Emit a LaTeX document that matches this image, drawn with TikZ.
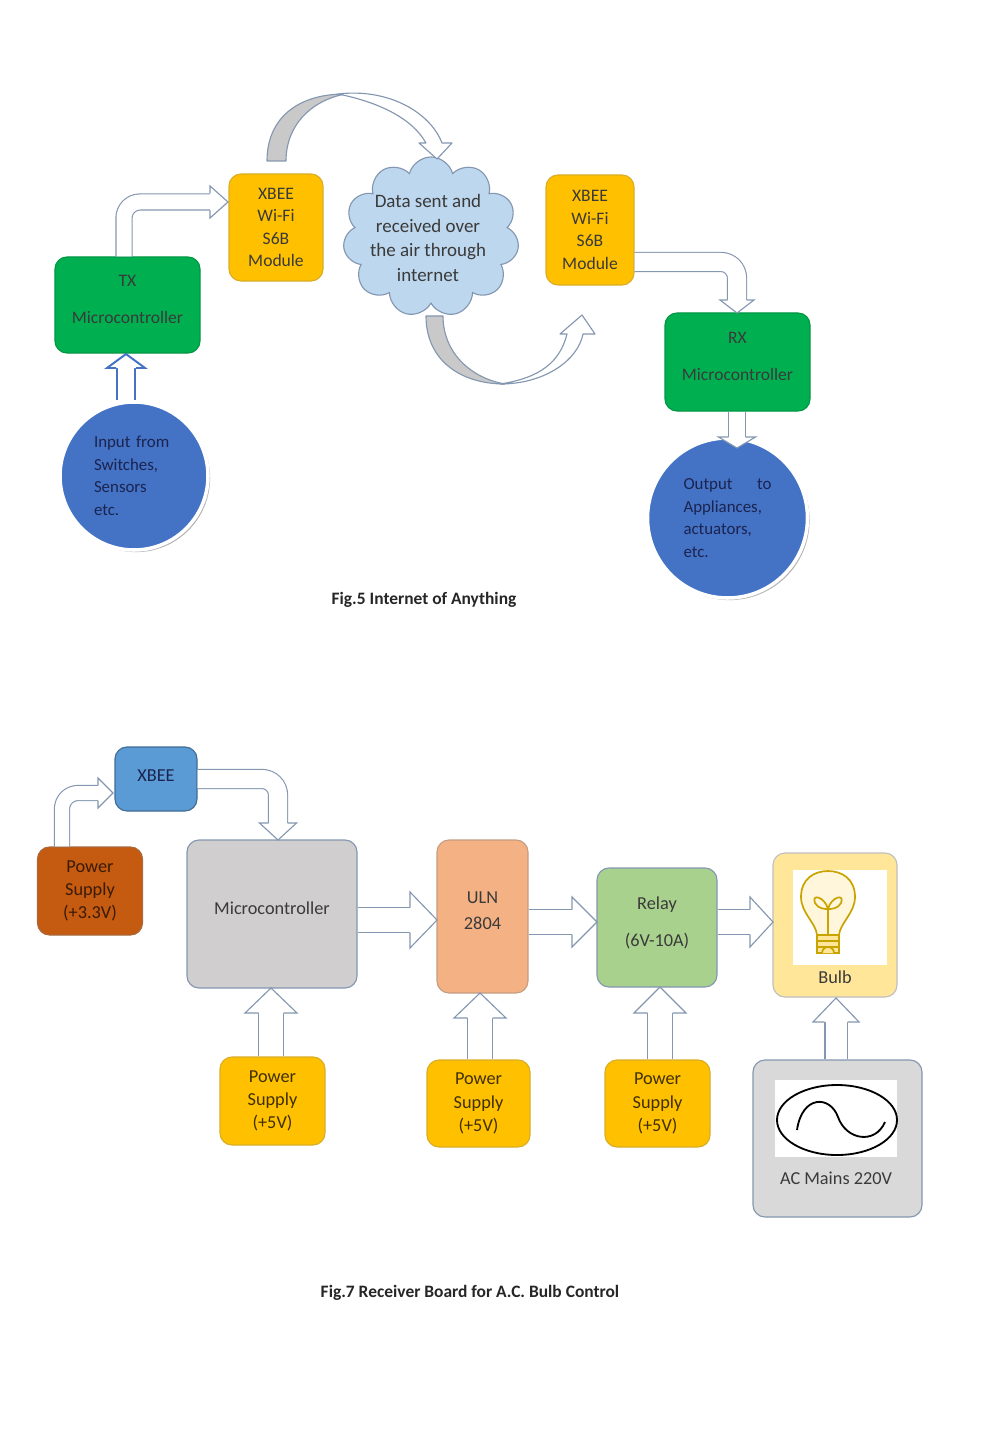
\documentclass[tikz,border=0pt]{standalone}
\usepackage{fontspec}
\setmainfont{Carlito}
\usetikzlibrary{calc,shapes.symbols,shadows}

\definecolor{txgreen}{HTML}{00B050}
\definecolor{xbyellow}{HTML}{FFC000}
\definecolor{cloudblue}{HTML}{BDD7EE}
\definecolor{circblue}{HTML}{4472C4}
\definecolor{arrline}{HTML}{8497B0}
\definecolor{curvgray}{HTML}{C9C9C9}
\definecolor{xbblue}{HTML}{5B9BD5}
\definecolor{psbrown}{HTML}{C55A11}
\definecolor{mcugray}{HTML}{D0CECE}
\definecolor{ulnpink}{HTML}{F4B183}
\definecolor{relaygreen}{HTML}{A9D18E}
\definecolor{bulbyellow}{HTML}{FFE699}
\definecolor{acgray}{HTML}{D9D9D9}
\definecolor{bulbline}{HTML}{C9A400}
\definecolor{boxtext}{HTML}{3A3A3A}
\definecolor{navytext}{HTML}{1B2450}

% head of a block arrow: [style] tip, angle, half width, length, half shaft
\newcommand\bhead[6][]{%
  \begin{scope}[shift={#2}, rotate=#3]
    \filldraw[headst, #1] (-#5,#6) -- (-#5,#4) -- (0,0) -- (-#5,-#4) -- (-#5,-#6);
  \end{scope}}

\begin{document}
\begin{tikzpicture}[x=0.25mm, y=-0.25mm,
    box/.style={draw, rounded corners=3mm, line width=0.8pt, align=center, text=boxtext,
      font=\fontsize{12.5}{16}\selectfont},
    bbox/.style={box, font=\fontsize{13}{16.5}\selectfont},
    ball/.style={circle, fill=circblue, draw=white, line width=2.5pt, text=navytext, align=left,
      font=\fontsize{12}{16}\selectfont,
      drop shadow={shadow xshift=1.5pt, shadow yshift=-1.5pt, opacity=.3, fill=black}},
    barrow/.style={draw=arrline, line width=0.8pt, double=white, rounded corners=4mm},
    headst/.style={fill=white, draw=arrline, line width=0.8pt, line join=miter},
    curv/.style={draw=arrline, line width=0.8pt, line join=round},
    caption/.style={font=\bfseries\fontsize{12.4}{14}\selectfont, text=black!85}]

  \fill[white] (0,0) rectangle (1000,1430);
  \useasboundingbox (0,0) rectangle (1000,1430);

  % Fig.5
  \node[box, fill=txgreen, draw=txgreen!85!black, minimum width=36.25mm, minimum height=24mm]
    (tx) at (127.5,305) {TX\\[10pt]Microcontroller\\[-8pt]};
  \node[box, fill=xbyellow, draw=xbyellow!70!gray, minimum width=23.5mm, minimum height=26.75mm]
    (xbl) at (276,227.5) {XBEE\\Wi-Fi\\S6B\\Module};
  \node[cloud, cloud puffs=11, aspect=1.1, fill=cloudblue, draw=arrline, line width=0.8pt,
    minimum width=44mm, minimum height=40mm] (cloud) at (431,237) {};
  \node[align=center, text=boxtext, font=\fontsize{13.5}{17.5}\selectfont]
    (cloudtxt) at (428,238) {Data sent and\\received over\\the air through\\internet};
  \node[box, fill=xbyellow, draw=xbyellow!70!gray, minimum width=22mm, minimum height=27.5mm]
    (xbr) at (590,230) {XBEE\\Wi-Fi\\S6B\\Module};
  \node[box, fill=txgreen, draw=txgreen!85!black, minimum width=36.25mm, minimum height=24.5mm]
    (rx) at (737.5,362) {RX\\[10pt]Microcontroller\\[-8pt]};
  \node[ball, minimum size=37mm, text width=20mm] (incircle) at (134,476)
    {Input from\\Switches,\\Sensors\\etc.};
  \node[ball, minimum size=40mm, text width=22mm] (outcircle) at (727.5,518)
    {Output\hfill to\\Appliances,\\actuators,\\etc.};

  % block arrows of Fig.5
  \coordinate (t1) at (228,202);
  \draw[barrow, double distance=3.75mm] ($(tx.north)+(-3.5,0)$) |- ($(t1)+(-18,0)$);
  \bhead{(t1)}{0}{16}{18}{8.5}

  \coordinate (t2) at (126,354);
  \draw[barrow, draw=circblue, line width=1.4pt, double distance=4mm] (incircle.north -| t2) -- ($(t2)+(0,14)$);
  \bhead[draw=circblue, line width=1.4pt]{(t2)}{90}{19}{14}{10}

  \coordinate (t3) at (737,313);
  \draw[barrow, double distance=4.5mm] ($(xbr.east)+(0,32)$) -| ($(t3)+(0,-13)$);
  \bhead{(t3)}{-90}{17}{13}{9.5}

  \coordinate (t4) at (737,448);
  \draw[barrow, double distance=4mm] (rx.south -| t4) -- ($(t4)+(0,-11)$);
  \bhead{(t4)}{-90}{18.5}{11}{8.5}

  % curved arrows over and under the cloud
  \filldraw[curv, fill=curvgray] (267,161) .. controls (267,118) and (298,94) .. (345,94)
    .. controls (310,101) and (286,126) .. (286,161) -- cycle;
  \filldraw[curv, fill=white] (338,94) .. controls (388,88) and (430,112) .. (442,143)
    -- (452,143) -- (437,159) -- (419,143) -- (426,143)
    .. controls (412,118) and (378,102) .. (338,94) -- cycle;
  \filldraw[curv, fill=curvgray] (426,316) .. controls (426,360) and (460,384) .. (505,384)
    .. controls (470,378) and (443,352) .. (443,316) -- cycle;
  \filldraw[curv, fill=white] (500,384) .. controls (545,384) and (578,360) .. (583,334)
    -- (595,334) -- (582,315) -- (560,334) -- (567,334)
    .. controls (560,362) and (540,378) .. (500,384) -- cycle;

  \node[caption] (cap5) at (424,600) {Fig.5 Internet of Anything};

  % Fig.7
  \node[bbox, fill=xbblue, draw=xbblue!70!black, text=navytext, minimum width=20.5mm, minimum height=16mm]
    (xbee) at (156,779) {XBEE\\[-12pt]};
  \node[bbox, fill=psbrown, draw=psbrown!60!gray, text=psbrown!30!black, minimum width=26.25mm, minimum height=22mm]
    (ps33) at (90,891) {Power\\Supply\\(+3.3V)};
  \node[bbox, fill=mcugray, draw=arrline, minimum width=42.5mm, minimum height=37mm]
    (mcu) at (272,914) {Microcontroller\\[-8pt]};
  \node[bbox, fill=ulnpink, draw=ulnpink!60!gray, minimum width=22.75mm, minimum height=38.25mm]
    (uln) at (482.5,916.5) {ULN\\[2pt]2804\\[-8pt]};
  \node[bbox, fill=relaygreen, draw=arrline, minimum width=30mm, minimum height=29.75mm]
    (relay) at (657,927.5) {Relay\\[10pt](6V-10A)\\[-8pt]};
  \node[bbox, fill=bulbyellow, draw=black!25, minimum width=31mm, minimum height=36mm]
    (bulb) at (835,925) {};
  \node[bbox, fill=xbyellow, draw=xbyellow!70!gray, text=xbyellow!25!black, minimum width=26.25mm, minimum height=22mm]
    (ps1) at (272.5,1101) {Power\\Supply\\(+5V)};
  \node[bbox, fill=xbyellow, draw=xbyellow!70!gray, text=xbyellow!25!black, minimum width=25.75mm, minimum height=21.75mm]
    (ps2) at (478.5,1103.5) {Power\\Supply\\(+5V)};
  \node[bbox, fill=xbyellow, draw=xbyellow!70!gray, text=xbyellow!25!black, minimum width=26.25mm, minimum height=21.75mm]
    (ps3) at (657.5,1103.5) {Power\\Supply\\(+5V)};
  \node[bbox, fill=acgray, draw=arrline, minimum width=42.25mm, minimum height=39.25mm]
    (ac) at (837.5,1138.5) {};

  % bulb picture
  \fill[white] (793,870) rectangle (887,965);
  \begin{scope}[shift={(828,905)}, draw=bulbline, line width=1.2pt]
    \filldraw[fill=bulbyellow!35] (-11,30) .. controls (-12,18) and (-27,8) .. (-27,-8)
      .. controls (-27,-26) and (-14,-34) .. (0,-34) .. controls (14,-34) and (27,-26) .. (27,-8)
      .. controls (27,8) and (12,18) .. (11,30) -- cycle;
    \draw (0,29) -- (0,4);
    \draw (0,4) .. controls (-3,-8) and (-17,-12) .. (-13,-2) .. controls (-10,4) and (-3,4) .. (0,4);
    \draw (0,4) .. controls (3,-8) and (17,-12) .. (13,-2) .. controls (10,4) and (3,4) .. (0,4);
    \filldraw[fill=bulbyellow] (-11,30) rectangle (11,48);
    \draw (-11,36) -- (11,36) (-11,42) -- (11,42);
    \filldraw[fill=bulbyellow] (-6,48) arc[start angle=180, end angle=360, radius=6];
  \end{scope}
  \node[font=\fontsize{13}{15}\selectfont, text=boxtext] (bulbtxt) at (835,977) {Bulb};

  % ac mains picture
  \fill[white] (775,1080) rectangle (897,1157);
  \draw[line width=1.3pt] (837,1120) ellipse[x radius=60, y radius=35];
  \draw[line width=1.3pt] (797,1130) .. controls (802,1095) and (830,1095) .. (838,1117)
    .. controls (846,1140) and (875,1145) .. (885,1122);
  \node[font=\fontsize{13}{15}\selectfont, text=boxtext] (actxt) at (836,1178) {AC Mains 220V};

  % block arrows of Fig.7
  \coordinate (t5) at (113,793);
  \draw[barrow, double distance=3.5mm] (ps33.north -| 62,0) |- ($(t5)+(-15,0)$);
  \bhead{(t5)}{0}{15}{15}{7.5}

  \coordinate (t6) at (278,840);
  \draw[barrow, double distance=4.5mm] (xbee.east) -| ($(t6)+(0,-17)$);
  \bhead{(t6)}{-90}{18.5}{17}{9.5}

  \coordinate (t7) at (437,920);
  \draw[barrow, double distance=6mm] (mcu.east |- t7) -- ($(t7)+(-27,0)$);
  \bhead{(t7)}{0}{28}{27}{12.5}

  \coordinate (t8) at (597,922);
  \draw[barrow, double distance=6mm] (uln.east |- t8) -- ($(t8)+(-25,0)$);
  \bhead{(t8)}{0}{25}{25}{12.5}

  \coordinate (t9) at (773,922);
  \draw[barrow, double distance=6mm] (relay.east |- t9) -- ($(t9)+(-23,0)$);
  \bhead{(t9)}{0}{25}{23}{12.5}

  \coordinate (t10) at (271,988);
  \draw[barrow, double distance=6mm] (ps1.north -| t10) -- ($(t10)+(0,25)$);
  \bhead{(t10)}{90}{26}{25}{12.5}

  \coordinate (t11) at (480,993);
  \draw[barrow, double distance=6mm] (ps2.north -| t11) -- ($(t11)+(0,25)$);
  \bhead{(t11)}{90}{26}{25}{12.5}

  \coordinate (t12) at (660,987);
  \draw[barrow, double distance=6mm] (ps3.north -| t12) -- ($(t12)+(0,26)$);
  \bhead{(t12)}{90}{26}{26}{12.5}

  \coordinate (t13) at (836,998);
  \draw[barrow, double distance=5.25mm] (ac.north -| t13) -- ($(t13)+(0,24)$);
  \bhead{(t13)}{90}{23}{24}{11.5}

  \node[caption] (cap7) at (470,1293) {Fig.7 Receiver Board for A.C. Bulb Control};
\end{tikzpicture}
\end{document}
